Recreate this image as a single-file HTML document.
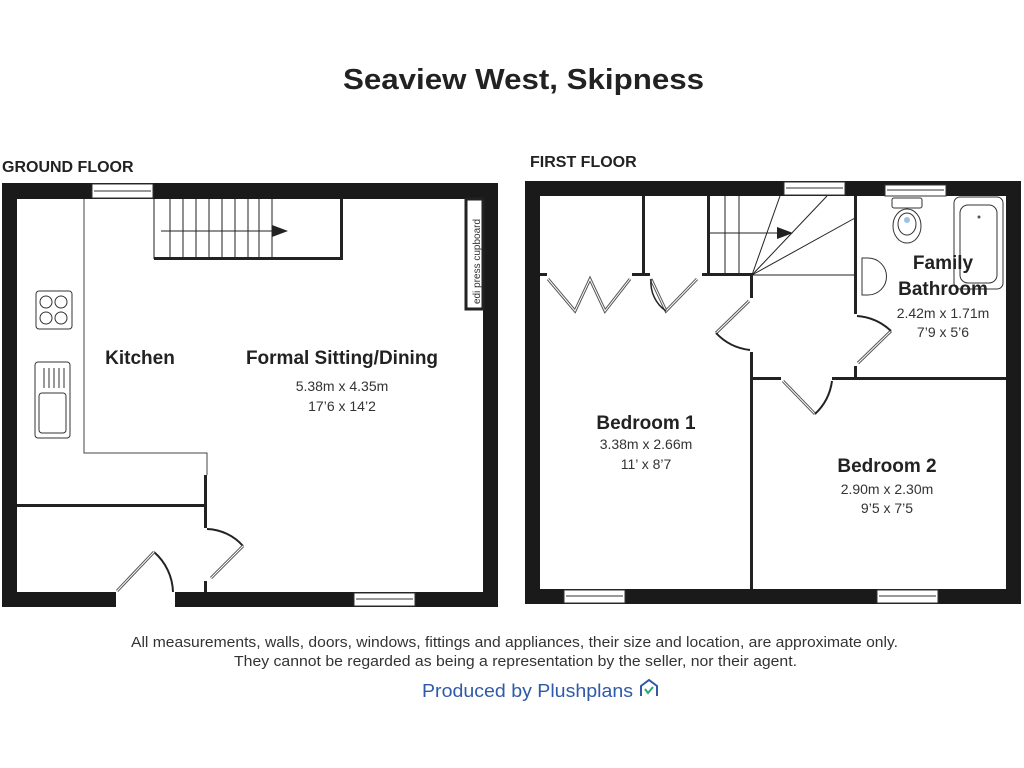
<!DOCTYPE html>
<html><head><meta charset="utf-8"><style>
html,body{margin:0;padding:0;background:#fff;}
svg{display:block;}
.b{font-family:"Liberation Sans",sans-serif;font-weight:bold;fill:#222;}
.r{font-family:"Liberation Sans",sans-serif;fill:#333;}
</style></head><body>
<svg width="1024" height="768" viewBox="0 0 1024 768" xmlns="http://www.w3.org/2000/svg">
<rect width="1024" height="768" fill="#fff"/>
<text x="343" y="89" class="b" font-size="29" textLength="361" lengthAdjust="spacingAndGlyphs">Seaview West,  Skipness</text>
<text x="2" y="172" class="b" font-size="16">GROUND FLOOR</text>
<text x="530" y="167" class="b" font-size="16">FIRST FLOOR</text>

<g fill="#1a1a1a">
<rect x="2" y="183" width="496" height="16"/>
<rect x="2" y="183" width="15" height="424"/>
<rect x="483" y="183" width="15" height="424"/>
<rect x="2" y="592" width="114" height="15"/>
<rect x="175" y="592" width="323" height="15"/>
</g>
<g fill="#fff" stroke="#333" stroke-width="1">
<rect x="92" y="184" width="61" height="14"/><line x1="94" y1="191" x2="151" y2="191"/>
<rect x="354" y="593" width="61" height="13"/><line x1="356" y1="599" x2="413" y2="599"/>
</g>
<g stroke="#222" fill="none" stroke-width="1">
<line x1="154" y1="199" x2="154" y2="259"/>
<line x1="170" y1="199" x2="170" y2="259"/><line x1="183" y1="199" x2="183" y2="259"/>
<line x1="196" y1="199" x2="196" y2="259"/><line x1="209" y1="199" x2="209" y2="259"/>
<line x1="222" y1="199" x2="222" y2="259"/><line x1="235" y1="199" x2="235" y2="259"/>
<line x1="248" y1="199" x2="248" y2="259"/><line x1="259" y1="199" x2="259" y2="259"/>
<line x1="272" y1="199" x2="272" y2="259"/>
<line x1="161" y1="231" x2="278" y2="231"/>
</g>
<polygon points="272,225 288,231 272,237" fill="#222"/>
<rect x="154" y="257" width="189" height="3" fill="#222"/>
<rect x="340" y="199" width="3" height="61" fill="#222"/>
<rect x="466" y="199" width="17" height="110" fill="#fff" stroke="#222" stroke-width="3"/>
<text transform="translate(480,304) rotate(-90)" class="r" font-size="10">edi press cupboard</text>
<polyline points="84,199 84,453 207,453 207,475" fill="none" stroke="#444" stroke-width="1"/>
<rect x="17" y="504" width="188" height="3" fill="#222"/>
<rect x="204" y="475" width="3" height="53" fill="#222"/>
<rect x="204" y="581" width="3" height="11" fill="#222"/>
<path d="M207,529 A50,50 0 0 1 243,546" fill="none" stroke="#222" stroke-width="2"/>
<line x1="243" y1="546" x2="211" y2="578" stroke="#555" stroke-width="3"/>
<line x1="243" y1="546" x2="211" y2="578" stroke="#fff" stroke-width="1"/>
<path d="M154,552 A55,55 0 0 1 173,592" fill="none" stroke="#222" stroke-width="2"/>
<line x1="154" y1="552" x2="117" y2="591" stroke="#555" stroke-width="3"/>
<line x1="154" y1="552" x2="117" y2="591" stroke="#fff" stroke-width="1"/>
<rect x="36" y="291" width="36" height="38" rx="3" fill="#fff" stroke="#333"/>
<g fill="none" stroke="#333"><circle cx="46" cy="302" r="6"/><circle cx="61" cy="302" r="6"/><circle cx="46" cy="318" r="6"/><circle cx="61" cy="318" r="6"/></g>
<rect x="35" y="362" width="35" height="76" rx="3" fill="#fff" stroke="#333"/>
<rect x="39" y="393" width="27" height="40" rx="3" fill="none" stroke="#333"/>
<g stroke="#333"><line x1="44" y1="368" x2="44" y2="388"/><line x1="49" y1="368" x2="49" y2="388"/><line x1="54" y1="368" x2="54" y2="388"/><line x1="59" y1="368" x2="59" y2="388"/><line x1="64" y1="368" x2="64" y2="388"/></g>

<text x="140" y="364" class="b" font-size="19" text-anchor="middle">Kitchen</text>
<text x="342" y="364" class="b" font-size="19" text-anchor="middle">Formal Sitting/Dining</text>
<text x="342" y="391" class="r" font-size="14" text-anchor="middle">5.38m x 4.35m</text>
<text x="342" y="411" class="r" font-size="14" text-anchor="middle">17’6 x 14’2</text>

<g fill="#1a1a1a">
<rect x="525" y="181" width="496" height="15"/>
<rect x="525" y="181" width="15" height="423"/>
<rect x="1006" y="181" width="15" height="423"/>
<rect x="525" y="589" width="496" height="15"/>
</g>
<g fill="#fff" stroke="#333" stroke-width="1">
<rect x="784" y="182" width="61" height="13"/><line x1="786" y1="188" x2="843" y2="188"/>
<rect x="885" y="185" width="61" height="11"/><line x1="887" y1="190" x2="944" y2="190"/>
<rect x="564" y="590" width="61" height="13"/><line x1="566" y1="596" x2="623" y2="596"/>
<rect x="877" y="590" width="61" height="13"/><line x1="879" y1="596" x2="936" y2="596"/>
</g>
<g fill="#222">
<rect x="642" y="196" width="3" height="80"/>
<rect x="707" y="196" width="3" height="80"/>
<rect x="540" y="273" width="7" height="3"/>
<rect x="632" y="273" width="18" height="3"/>
<rect x="702" y="273" width="51" height="3"/>
<rect x="750" y="273" width="3" height="25"/>
<rect x="750" y="352" width="3" height="237"/>
<rect x="854" y="196" width="3" height="118"/>
<rect x="854" y="366" width="3" height="13"/>
<rect x="750" y="377" width="31" height="3"/>
<rect x="832" y="377" width="174" height="3"/>
</g>
<g stroke="#222" fill="none" stroke-width="1">
<line x1="725" y1="196" x2="725" y2="275"/><line x1="739" y1="196" x2="739" y2="275"/>
<line x1="709" y1="233" x2="752" y2="233"/>
<line x1="752" y1="275" x2="780" y2="196"/><line x1="752" y1="275" x2="827" y2="196"/>
<line x1="752" y1="275" x2="855" y2="218"/>
<line x1="752" y1="275" x2="855" y2="275"/>
<line x1="752" y1="233" x2="780" y2="233"/>
</g>
<polygon points="777,227 793,233 777,239" fill="#222"/>
<g fill="none">
<polyline points="548,279 575,311 590,279 605,311 630,279" stroke="#555" stroke-width="3"/>
<polyline points="548,279 575,311 590,279 605,311 630,279" stroke="#fff" stroke-width="1"/>
<polyline points="651,279 666,311 697,279" stroke="#555" stroke-width="3"/>
<polyline points="651,279 666,311 697,279" stroke="#fff" stroke-width="1"/>
<path d="M651,279 A35,35 0 0 0 666,311" stroke="#222" stroke-width="1.5"/>
<line x1="749" y1="301" x2="716" y2="333" stroke="#555" stroke-width="3"/>
<line x1="749" y1="301" x2="716" y2="333" stroke="#fff" stroke-width="1"/>
<path d="M716,333 A55,55 0 0 0 750,350" stroke="#222" stroke-width="2"/>
<line x1="858" y1="363" x2="891" y2="331" stroke="#555" stroke-width="3"/>
<line x1="858" y1="363" x2="891" y2="331" stroke="#fff" stroke-width="1"/>
<path d="M857,316 A55,55 0 0 1 891,331" stroke="#222" stroke-width="2"/>
<line x1="783" y1="381" x2="815" y2="414" stroke="#555" stroke-width="3"/>
<line x1="783" y1="381" x2="815" y2="414" stroke="#fff" stroke-width="1"/>
<path d="M815,414 A55,55 0 0 0 832,381" stroke="#222" stroke-width="2"/>
</g>
<rect x="954" y="197" width="49" height="92" rx="6" fill="#fff" stroke="#333"/>
<rect x="960" y="205" width="37" height="78" rx="8" fill="none" stroke="#333"/>
<circle cx="979" cy="217" r="1.5" fill="#555"/>
<rect x="892" y="198" width="30" height="10" rx="2" fill="#fff" stroke="#333"/>
<ellipse cx="907" cy="226" rx="14" ry="17" fill="#fff" stroke="#333"/>
<ellipse cx="907" cy="224" rx="9" ry="11" fill="none" stroke="#333"/>
<circle cx="907" cy="220" r="3" fill="#9cc3e6"/>
<path d="M862,258 L868,258 A18,18 0 0 1 868,295 L862,295 Z" fill="#fff" stroke="#333"/>

<text x="943" y="269" class="b" font-size="19" text-anchor="middle">Family</text>
<text x="943" y="295" class="b" font-size="19" text-anchor="middle">Bathroom</text>
<text x="943" y="318" class="r" font-size="14" text-anchor="middle">2.42m x 1.71m</text>
<text x="943" y="337" class="r" font-size="14" text-anchor="middle">7’9 x 5’6</text>
<text x="646" y="429" class="b" font-size="19" text-anchor="middle">Bedroom 1</text>
<text x="646" y="449" class="r" font-size="14" text-anchor="middle">3.38m x 2.66m</text>
<text x="646" y="469" class="r" font-size="14" text-anchor="middle">11’ x 8’7</text>
<text x="887" y="472" class="b" font-size="19" text-anchor="middle">Bedroom 2</text>
<text x="887" y="494" class="r" font-size="14" text-anchor="middle">2.90m x 2.30m</text>
<text x="887" y="513" class="r" font-size="14" text-anchor="middle">9’5 x 7’5</text>

<text x="131" y="647" class="r" font-size="15" textLength="767" lengthAdjust="spacingAndGlyphs">All measurements, walls, doors, windows, fittings and appliances, their size and location, are approximate only.</text>
<text x="234" y="666" class="r" font-size="15" textLength="563" lengthAdjust="spacingAndGlyphs">They cannot be regarded as being a representation by the seller, nor their agent.</text>
<text x="422" y="697" font-family="Liberation Sans,sans-serif" font-size="18" fill="#2f5aa8" textLength="211" lengthAdjust="spacingAndGlyphs">Produced by Plushplans</text>
<path d="M641,696 L641,686 L649,680 L657,686 L657,696" fill="none" stroke="#2f5aa8" stroke-width="2"/>
<polyline points="645,689 648,693 653,687" fill="none" stroke="#2aa876" stroke-width="2"/>
</svg>
</body></html>
